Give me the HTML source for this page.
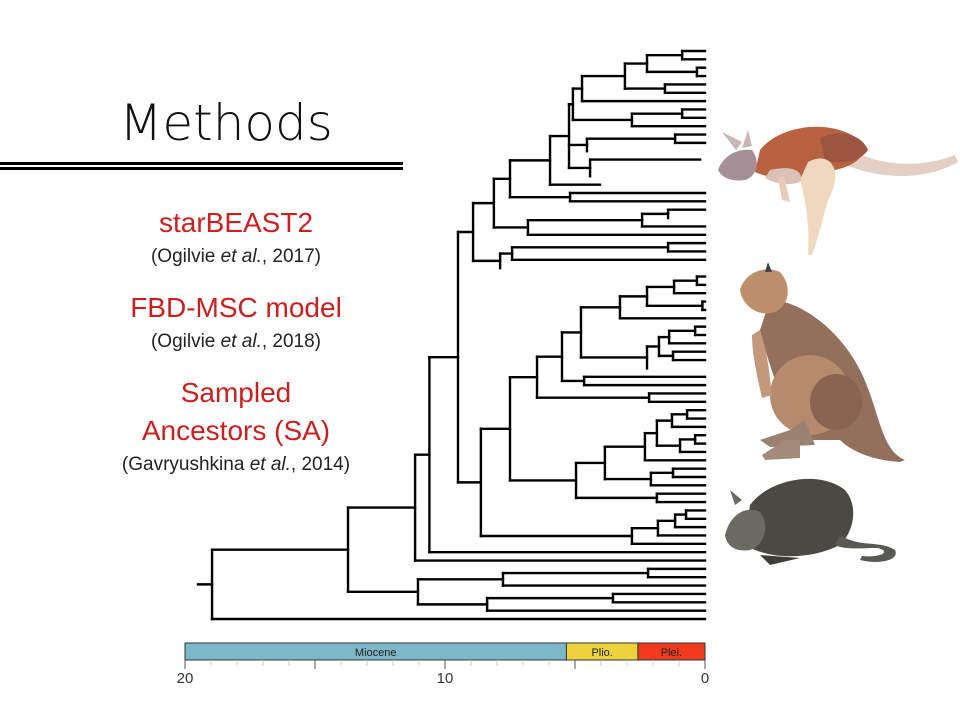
<!DOCTYPE html>
<html><head><meta charset="utf-8"><style>
html,body{margin:0;padding:0;background:#fff;}
svg{display:block;}
.t{font-family:"Liberation Sans",sans-serif;}
</style></head><body>
<svg id="chart" width="960" height="720" viewBox="0 0 960 720" xmlns="http://www.w3.org/2000/svg">
<g>
<text x="226" y="140" font-size="50" text-anchor="middle" fill="#111" font-weight="200" font-family="'DejaVu Sans','Liberation Sans',sans-serif">Methods</text>
<rect x="0" y="162" width="403" height="3" fill="#000"/>
<rect x="0" y="167" width="403" height="3" fill="#000"/>
</g>
<g class="t" text-anchor="middle">
<text x="236" y="232" font-size="28" fill="#cc2020">starBEAST2</text>
<text x="236" y="262" font-size="19" fill="#222">(Ogilvie <tspan font-style="italic">et al.</tspan>, 2017)</text>
<text x="236" y="317" font-size="28" fill="#cc2020">FBD-MSC model</text>
<text x="236" y="347" font-size="19" fill="#222">(Ogilvie <tspan font-style="italic">et al.</tspan>, 2018)</text>
<text x="236" y="402" font-size="28" fill="#cc2020">Sampled</text>
<text x="236" y="440" font-size="28" fill="#cc2020">Ancestors (SA)</text>
<text x="236" y="470" font-size="19" fill="#222">(Gavryushkina <tspan font-style="italic">et al.</tspan>, 2014)</text>
</g>
<g id="tree"></g>
<g id="timescale"></g>
<g>
<path d="M850,150 C890,170 930,165 955,155 L958,162 C930,178 890,182 845,165 Z" fill="#e3cfc4"/>
<path d="M760,150 C780,125 830,118 860,140 C870,150 860,165 835,170 C810,178 775,182 755,172 Z" fill="#b8623f"/>
<path d="M820,138 C840,128 862,135 868,150 C860,162 840,165 825,160 Z" fill="#9c5540"/>
<path d="M808,162 C830,150 845,170 828,200 C822,220 818,240 812,255 L808,255 C810,230 806,200 800,180 Z" fill="#efd8bf"/>
<path d="M770,170 C790,165 805,170 800,182 C790,186 775,184 765,178 Z" fill="#dcc2b6"/>
<path d="M778,178 L782,200 L790,202 L784,176 Z" fill="#e8cbb8"/>
<path d="M718,170 C722,158 735,148 752,150 C760,160 758,176 745,180 C732,182 722,178 718,170 Z" fill="#a49096"/>
<path d="M736,150 L722,132 L742,142 Z M742,148 L748,130 L752,146 Z" fill="#c9b6b6"/>
</g>
<g>
<path d="M770,300 C800,300 840,330 860,370 C880,410 880,450 905,460 L900,462 C870,460 850,450 840,440 L800,440 C785,410 770,370 760,330 Z" fill="#93705c"/>
<ellipse cx="810" cy="395" rx="40" ry="40" fill="#b58a6d"/>
<ellipse cx="836" cy="402" rx="26" ry="28" fill="#8a6450"/>
<path d="M790,430 L805,420 L815,445 L770,447 L760,440 Z" fill="#9a8272"/>
<path d="M785,440 L800,440 L800,458 L765,460 L762,455 Z" fill="#a38b7b"/>
<path d="M760,330 C770,360 770,385 772,395 L762,398 C758,380 752,355 752,335 Z" fill="#c4987a"/>
<path d="M740,290 C745,272 765,265 780,272 C792,285 790,305 775,312 C758,318 742,305 740,290 Z" fill="#be8f6c"/>
<path d="M765,272 L768,262 L772,272 Z" fill="#444"/>
</g>
<g>
<path d="M750,505 C770,478 820,470 845,490 C858,505 855,530 840,545 C810,560 770,560 745,545 Z" fill="#4a4944"/>
<path d="M840,535 C860,548 880,540 895,550 C900,560 880,565 860,560 L862,556 C880,558 892,552 878,548 C860,548 845,550 835,545 Z" fill="#5a5955"/>
<path d="M725,535 C730,515 745,505 760,512 C770,525 765,545 750,550 C738,552 727,548 725,535 Z" fill="#6c6b62"/>
<path d="M735,505 L730,490 L742,500 Z" fill="#6c6b62"/>
<path d="M760,555 L800,558 L770,565 Z" fill="#3e3d38"/>
</g>
<script>
// Tree data: N(age, ...children) internal node; T(endAge) tip; S() zero-length sampled ancestor stub; G() empty slot
function N(age){return {a:age,c:Array.prototype.slice.call(arguments,1)};}
function T(e){return {e:e||0};}
function S(){return {s:1};}
function G(){return {g:1};}
const tree = N(18.96,
 N(13.73,
  N(11.15,
   N(10.6,
    N(9.5,
     N(8.92,
      N(8.12,
       N(7.5,
        N(5.96,
         N(5.23,
          N(5.08,
           N(4.73,
            N(3.08,
             N(2.23, N(0.88,T(),T()), N(0.31,T(),T())),
             N(1.54,T(),T())),
            T()),
           N(2.81, N(0.88,T(),T()), T())),
          N(4.54, N(1.15,T(),T()), S()),
          N(4.42, T(0.19), G(), S())),
         T(4.04)),
        N(5.19,T(),T())),
       N(6.81, N(2.42, N(1.42,T(),S()), T()), T())),
      N(7.88, N(7.42, N(1.42,T(),T()), T()), S())),
     N(8.62,
      N(7.5,
       N(6.46,
        N(5.5,
         N(4.77,
          N(3.27,
           N(2.23, N(1.19, N(0.31,T(),T()), T()), N(0.1,T(),T())),
           T()),
          N(2.23, N(1.77, N(1.38, N(0.38,T(),T()), T()), N(1.23,T(),T())), S())),
         N(4.65,T(),T())),
        N(2.15,T(),T())),
       N(4.96,
        N(3.85,
         N(2.31, N(1.85, N(1.27, N(0.69,T(),T()), T()), N(0.96, N(0.38,T(),T()), T())), T()),
         N(2.08, N(1.23,T(),T()), T())),
        N(1.85,T(),T()))),
      N(2.81, N(1.81, N(1.15, N(0.73,T(),T()), T()), T()), T()))),
    T()),
   T()),
  N(11.04, N(7.77, N(2.19,T(),T()), T()), N(8.38, N(3.54,T(),T()), T()))),
 T());
const rootStemAge = 19.5;
const epochNames = ["Miocene","Plio.","Plei."];
const epochStarts = [20, 5.33, 2.58];
const epochEnds = [5.33, 2.58, 0];
const epochColors = ["#7cb8c8","#ecd23c","#f23a1e"];
const tickLabels = [20, 10, 0];

const NS="http://www.w3.org/2000/svg";
const X0=185, X1=705, AMAX=20;
function xA(age){return X0+(AMAX-age)/AMAX*(X1-X0);}
const Y0=51, Y1=619;
let slots=0;
(function cnt(n){ if(n.c) n.c.forEach(cnt); else slots++; })(tree);
const step=(Y1-Y0)/(slots-1);
let idx=0;
(function lay(n){
  if(n.c){ n.c.forEach(lay); const v=n.c.filter(k=>!k.g); n.y=(v[0].y+v[v.length-1].y)/2; n.y0=v[0].y; n.y1=v[v.length-1].y; }
  else { n.y=Y0+idx*step; idx++; }
})(tree);
const tg=document.getElementById('tree');
function line(x1,y1,x2,y2){
  const l=document.createElementNS(NS,'line');
  l.setAttribute('x1',x1);l.setAttribute('y1',y1);l.setAttribute('x2',x2);l.setAttribute('y2',y2);
  l.setAttribute('stroke','#000');l.setAttribute('stroke-width','2.4');l.setAttribute('stroke-linecap','square');
  
  
  tg.appendChild(l);
}
(function draw(n){
  const px=xA(n.a);
  line(px,n.y0,px,n.y1);
  n.c.forEach(k=>{
    if(k.g||k.s) return;
    const cx = k.c ? xA(k.a) : xA(k.e);
    line(px,k.y,cx,k.y);
    if(k.c) draw(k);
  });
})(tree);
line(xA(rootStemAge),tree.y,xA(tree.a),tree.y);

const ts=document.getElementById('timescale');
const BY=643, BH=17;
epochNames.forEach((nm,i)=>{
  const r=document.createElementNS(NS,'rect');
  r.setAttribute('x',xA(epochStarts[i]));r.setAttribute('y',BY);
  r.setAttribute('width',xA(epochEnds[i])-xA(epochStarts[i]));r.setAttribute('height',BH);
  r.setAttribute('fill',epochColors[i]);r.setAttribute('stroke','#333');r.setAttribute('stroke-width','1');
  
  
  ts.appendChild(r);
  const t=document.createElementNS(NS,'text');
  t.setAttribute('x',(xA(epochStarts[i])+xA(epochEnds[i]))/2);t.setAttribute('y',BY+13);
  t.setAttribute('text-anchor','middle');t.setAttribute('font-size','11');t.setAttribute('fill','#222');
  t.setAttribute('font-family','Liberation Sans, sans-serif');
  t.textContent=nm;
  
  
  ts.appendChild(t);
});
const axl=document.createElementNS(NS,'line');
axl.setAttribute('x1',X0);axl.setAttribute('x2',X1);axl.setAttribute('y1',BY+BH);axl.setAttribute('y2',BY+BH);
axl.setAttribute('stroke','#333');axl.setAttribute('stroke-width','1');


ts.appendChild(axl);
for(let a=0;a<=AMAX;a++){
  const major=a%5===0;
  const tk=document.createElementNS(NS,'line');
  tk.setAttribute('x1',xA(a));tk.setAttribute('x2',xA(a));tk.setAttribute('y1',BY+BH);tk.setAttribute('y2',BY+BH+(major?9:6));
  tk.setAttribute('stroke',major?'#555':'#ccc');tk.setAttribute('stroke-width','1');
  
  
  ts.appendChild(tk);
}
tickLabels.forEach(v=>{
  const t=document.createElementNS(NS,'text');
  t.setAttribute('x',xA(v));t.setAttribute('y',683);t.setAttribute('text-anchor','middle');
  t.setAttribute('font-size','15');t.setAttribute('fill','#333');t.setAttribute('font-family','Liberation Sans, sans-serif');
  t.textContent=v;
  
  
  ts.appendChild(t);
});
</script>
</svg>
</body></html>
